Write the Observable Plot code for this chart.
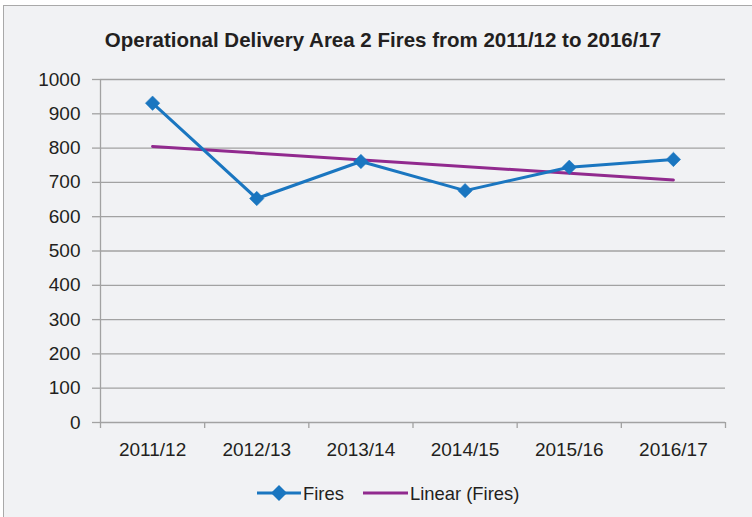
<!DOCTYPE html>
<html>
<head>
<meta charset="utf-8">
<script src="https://cdn.jsdelivr.net/npm/d3@7"></script>
<script src="https://cdn.jsdelivr.net/npm/@observablehq/plot@0.6"></script>
<style>
  html, body { margin: 0; padding: 0; background: #ffffff; }
  #wrap { position: relative; width: 752px; height: 517px; overflow: hidden; font-family: "Liberation Sans", Arial, Helvetica, sans-serif; }
  #frame { position: absolute; left: 3px; top: 5px; width: 800px; height: 600px; background: #f1f2f4; border: 1px solid #a9a9a9; }
  #title { position: absolute; left: 0; top: 28px; width: 766px; text-align: center; font-weight: bold; font-size: 20.5px; line-height: 24px; color: #231f20; }
  #chart { position: absolute; left: 0; top: 0; }
  #legend { position: absolute; left: 0; top: 482px; width: 752px; height: 24px; color: #231f20; }
</style>
</head>
<body>
<div id="wrap">
  <div id="frame"></div>
  <div id="chart"></div>
  <div id="title">Operational Delivery Area 2 Fires from 2011/12 to 2016/17</div>
  <div id="legend"></div>
</div>
<script>
const years = ["2011/12", "2012/13", "2013/14", "2014/15", "2015/16", "2016/17"];
const fires = [931, 653, 761, 676, 744, 767];
const trendYears = ["2011/12", "2016/17"];
const trendValues = [805, 707];
const yTicks = [0, 100, 200, 300, 400, 500, 600, 700, 800, 900, 1000];
const seriesNames = ["Fires", "Linear (Fires)"];

const blue = "#1a76c0";
const purple = "#912a8e";
const ink = "#231f20";

const idx = y => years.indexOf(y);
const firesData = years.map((y, i) => ({i, v: fires[i]}));
const trendData = trendYears.map((y, k) => ({i: idx(y), v: trendValues[k]}));
const boundaries = d3.range(years.length + 1).map(k => k - 0.5);

const chart = Plot.plot({
  width: 752,
  height: 517,
  marginLeft: 100,
  marginRight: 27,
  marginTop: 79,
  marginBottom: 95,
  style: {background: "transparent", fontFamily: "Liberation Sans, Arial, sans-serif", fontSize: "19px", color: ink},
  x: {type: "linear", domain: [-0.5, years.length - 0.5]},
  y: {domain: [0, 1000]},
  marks: [
    Plot.gridY(yTicks, {stroke: "#a2a2a2", strokeOpacity: 1, strokeWidth: 1.3}),
    Plot.ruleX([-0.5], {y1: 0, y2: 1000, stroke: "#a2a2a2", strokeWidth: 1.3}),
    Plot.axisY({ticks: yTicks, tickSize: 8, tickPadding: 12, tickFormat: d => String(d), stroke: "#a2a2a2", strokeWidth: 1.3, fill: ink, label: null, fontSize: 19}),
    Plot.axisX({ticks: boundaries, tickSize: 6, tickFormat: () => "", stroke: "#a2a2a2", strokeWidth: 1.3, label: null}),
    Plot.axisX({ticks: d3.range(years.length), tickSize: 0, tickPadding: 20, tickFormat: i => years[i], fill: ink, label: null, fontSize: 19}),
    Plot.line(trendData, {x: "i", y: "v", stroke: purple, strokeWidth: 3}),
    Plot.line(firesData, {x: "i", y: "v", stroke: blue, strokeWidth: 3}),
    Plot.dot(firesData, {x: "i", y: "v", symbol: "diamond2", r: 6.5, fill: blue, stroke: blue, strokeWidth: 0.5})
  ]
});
document.getElementById("chart").appendChild(chart);

// legend
const leg = document.getElementById("legend");
const ns = "http://www.w3.org/2000/svg";
const lsvg = document.createElementNS(ns, "svg");
lsvg.setAttribute("width", 752);
lsvg.setAttribute("height", 24);
lsvg.style.overflow = "visible";
const cy = 11;
function el(tag, attrs) {
  const e = document.createElementNS(ns, tag);
  for (const k in attrs) e.setAttribute(k, attrs[k]);
  lsvg.appendChild(e);
  return e;
}
el("line", {x1: 257, x2: 301, y1: cy, y2: cy, stroke: blue, "stroke-width": 3});
el("path", {d: `M279,${cy - 8}L287,${cy}L279,${cy + 8}L271,${cy}Z`, fill: blue});
let t1 = el("text", {x: 303, y: cy + 6.5, "font-size": 18.4, fill: ink, "font-family": "Liberation Sans, Arial, sans-serif"});
t1.textContent = seriesNames[0];
el("line", {x1: 363, x2: 408, y1: cy, y2: cy, stroke: purple, "stroke-width": 3});
let t2 = el("text", {x: 410, y: cy + 6.5, "font-size": 18.4, fill: ink, "font-family": "Liberation Sans, Arial, sans-serif"});
t2.textContent = seriesNames[1];
leg.appendChild(lsvg);
</script>
</body>
</html>
